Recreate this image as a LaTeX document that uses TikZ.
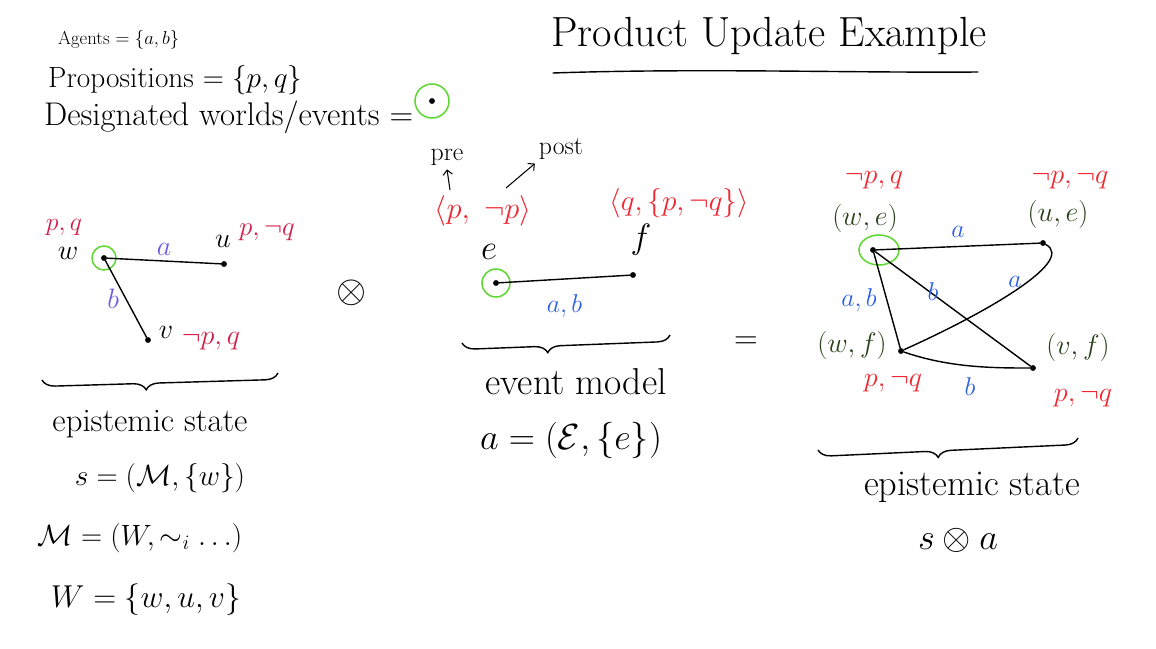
\RequirePackage{fix-cm}
\documentclass[tikz,border=0pt]{standalone}
\usepackage{amsmath, amssymb}
\usetikzlibrary{calc,arrows.meta,decorations.pathreplacing}
\definecolor{inkred}{RGB}{238,40,50}
\definecolor{inkcrimson}{RGB}{212,28,72}
\definecolor{inkblue}{RGB}{45,95,230}
\definecolor{inkviolet}{RGB}{112,92,225}
\definecolor{inkgreen}{RGB}{95,215,50}
\definecolor{inkdark}{RGB}{40,65,25}
\tikzset{
  dot/.style={circle,fill=black,inner sep=0pt,minimum size=5pt},
  fs/.style={font=\fontsize{#1}{#1}\selectfont},
  lbl/.style={fs=22},
  edge/.style={line width=1.2pt, line cap=round},
  desig/.style={draw=inkgreen, line width=1.3pt},
  brc/.style={decorate, decoration={brace,mirror,amplitude=11pt,aspect=#1}, line width=1.2pt}
}

\begin{document}
\begin{tikzpicture}[x=0.03cm,y=-0.03cm]
\useasboundingbox[fill=white] (0,0) rectangle (1156,649);

% legend and title
\node[fs=16,anchor=west] (agents) at (54,40) {Agents $=\{a,b\}$};
\node[fs=25,anchor=west] (props) at (44,80) {Propositions $=\{p,q\}$};
\node[fs=28,anchor=west] (desig) at (40,117) {Designated worlds/events $=$};
\node[dot] (legdot) at (432,101) {};
\draw[desig] (legdot) circle (17);
\node[fs=36] (title) at (769,36) {Product Update Example};
\draw[edge] (553,73) .. controls (700,68) and (850,73) .. (978,72);

% epistemic state s
\node[dot] (w) at (104,258) {};
\node[dot] (u) at (224,264) {};
\node[dot] (v) at (148,340) {};
\draw[desig] (w) circle (12);
\node[fs=24] at (68,253) {$w$};
\node[fs=24] at (223,241) {$u$};
\node[fs=24] at (166,332) {$v$};
\node[fs=22,inkcrimson] at (64,227) {$p,q$};
\node[fs=23,inkcrimson] at (267,232) {$p,\neg q$};
\node[fs=24,inkcrimson] at (211,341) {$\neg p,q$};
\draw[edge] (w) -- (u) node[midway,above=1pt,fs=24,inkviolet] {$a$};
\draw[edge] (w) -- (v) node[midway,left=2pt,fs=24,inkviolet] {$b$};

\node[fs=33] (prod) at (352,293) {$\otimes$};

% event model a
\node[dot] (e) at (496,283) {};
\node[dot] (f) at (633,275) {};
\draw[desig] (e) circle (14);
\node[fs=30] at (489,252) {$e$};
\node[fs=30] at (641,240) {$f$};
\node[fs=26,inkred] (pree) at (483,211) {$\langle p,\ \neg p\rangle$};
\node[fs=25,inkred] (pref) at (679,203) {$\langle q,\{p,\neg q\}\rangle$};
\node[fs=22] (pre) at (447,157) {pre};
\node[fs=22] (post) at (561,149) {post};
\coordinate (prefoot) at (450,190);
\coordinate (postfoot) at (506,188);
\draw[line width=0.9pt,-{Straight Barb[length=4pt]}] (prefoot) -- (pre.south);
\draw[line width=0.9pt,-{Straight Barb[length=4pt]}] (postfoot) -- (post.south west);
\draw[edge] (e) -- (f) node[midway,below=9pt,lbl,inkblue] {$a,b$};

\node[fs=28] (eq) at (746,343) {$=$};

% product s (x) a
\node[dot] (we) at (873,250) {};
\node[dot] (ue) at (1043,243) {};
\node[dot] (wf) at (901,351) {};
\node[dot] (vf) at (1033,368) {};
\draw[desig] (879,250) ellipse (20 and 15);
\node[fs=24,inkdark] at (865,218) {$(w,e)$};
\node[fs=24,inkdark] at (1058,214) {$(u,e)$};
\node[fs=24,inkdark] at (852,345) {$(w,f)$};
\node[fs=24,inkdark] at (1078,347) {$(v,f)$};
\node[fs=24,inkred] at (874,180) {$\neg p,q$};
\node[fs=24,inkred] at (1070,180) {$\neg p,\neg q$};
\node[fs=24,inkred] at (893,383) {$p,\neg q$};
\node[fs=24,inkred] at (1083,398) {$p,\neg q$};
\draw[edge] (we) -- (ue) node[midway,above=4pt,lbl,inkblue] {$a$};
\draw[edge] (ue) .. controls (1078,262) and (975,318) .. (wf);
\node[lbl,inkblue] at (1015,282) {$a$};
\draw[edge] (we) -- (vf);
\node[lbl,inkblue] at (933,292) {$b$};
\draw[edge] (we) -- (wf) node[midway,left=5pt,lbl,inkblue] {$a,b$};
\draw[edge] (wf) .. controls (950,368) and (995,368) .. (vf);
\node[lbl,inkblue] at (970,387) {$b$};

% braces and captions
\coordinate (bl1) at (42,380);  \coordinate (bl2) at (278,373);
\coordinate (bm1) at (462,343); \coordinate (bm2) at (670,335);
\coordinate (br1) at (818,450); \coordinate (br2) at (1078,438);
\draw[brc=0.44] (bl1) -- (bl2);
\draw[brc=0.41] (bm1) -- (bm2);
\draw[brc=0.46] (br1) -- (br2);

\node[fs=28] at (150,424) {epistemic state};
\node[fs=25] at (160,478) {$s=(\mathcal{M},\{w\})$};
\node[fs=25] at (140,538) {$\mathcal{M}=(W,\sim_i\ldots)$};
\node[fs=27] at (146,600) {$W=\{w,u,v\}$};
\node[fs=32] at (576,382) {event model};
\node[fs=31] at (571,440) {$a=(\mathcal{E},\{e\})$};
\node[fs=31] at (972,487) {epistemic state};
\node[fs=31] at (958,540) {$s\otimes a$};
\end{tikzpicture}
\end{document}
